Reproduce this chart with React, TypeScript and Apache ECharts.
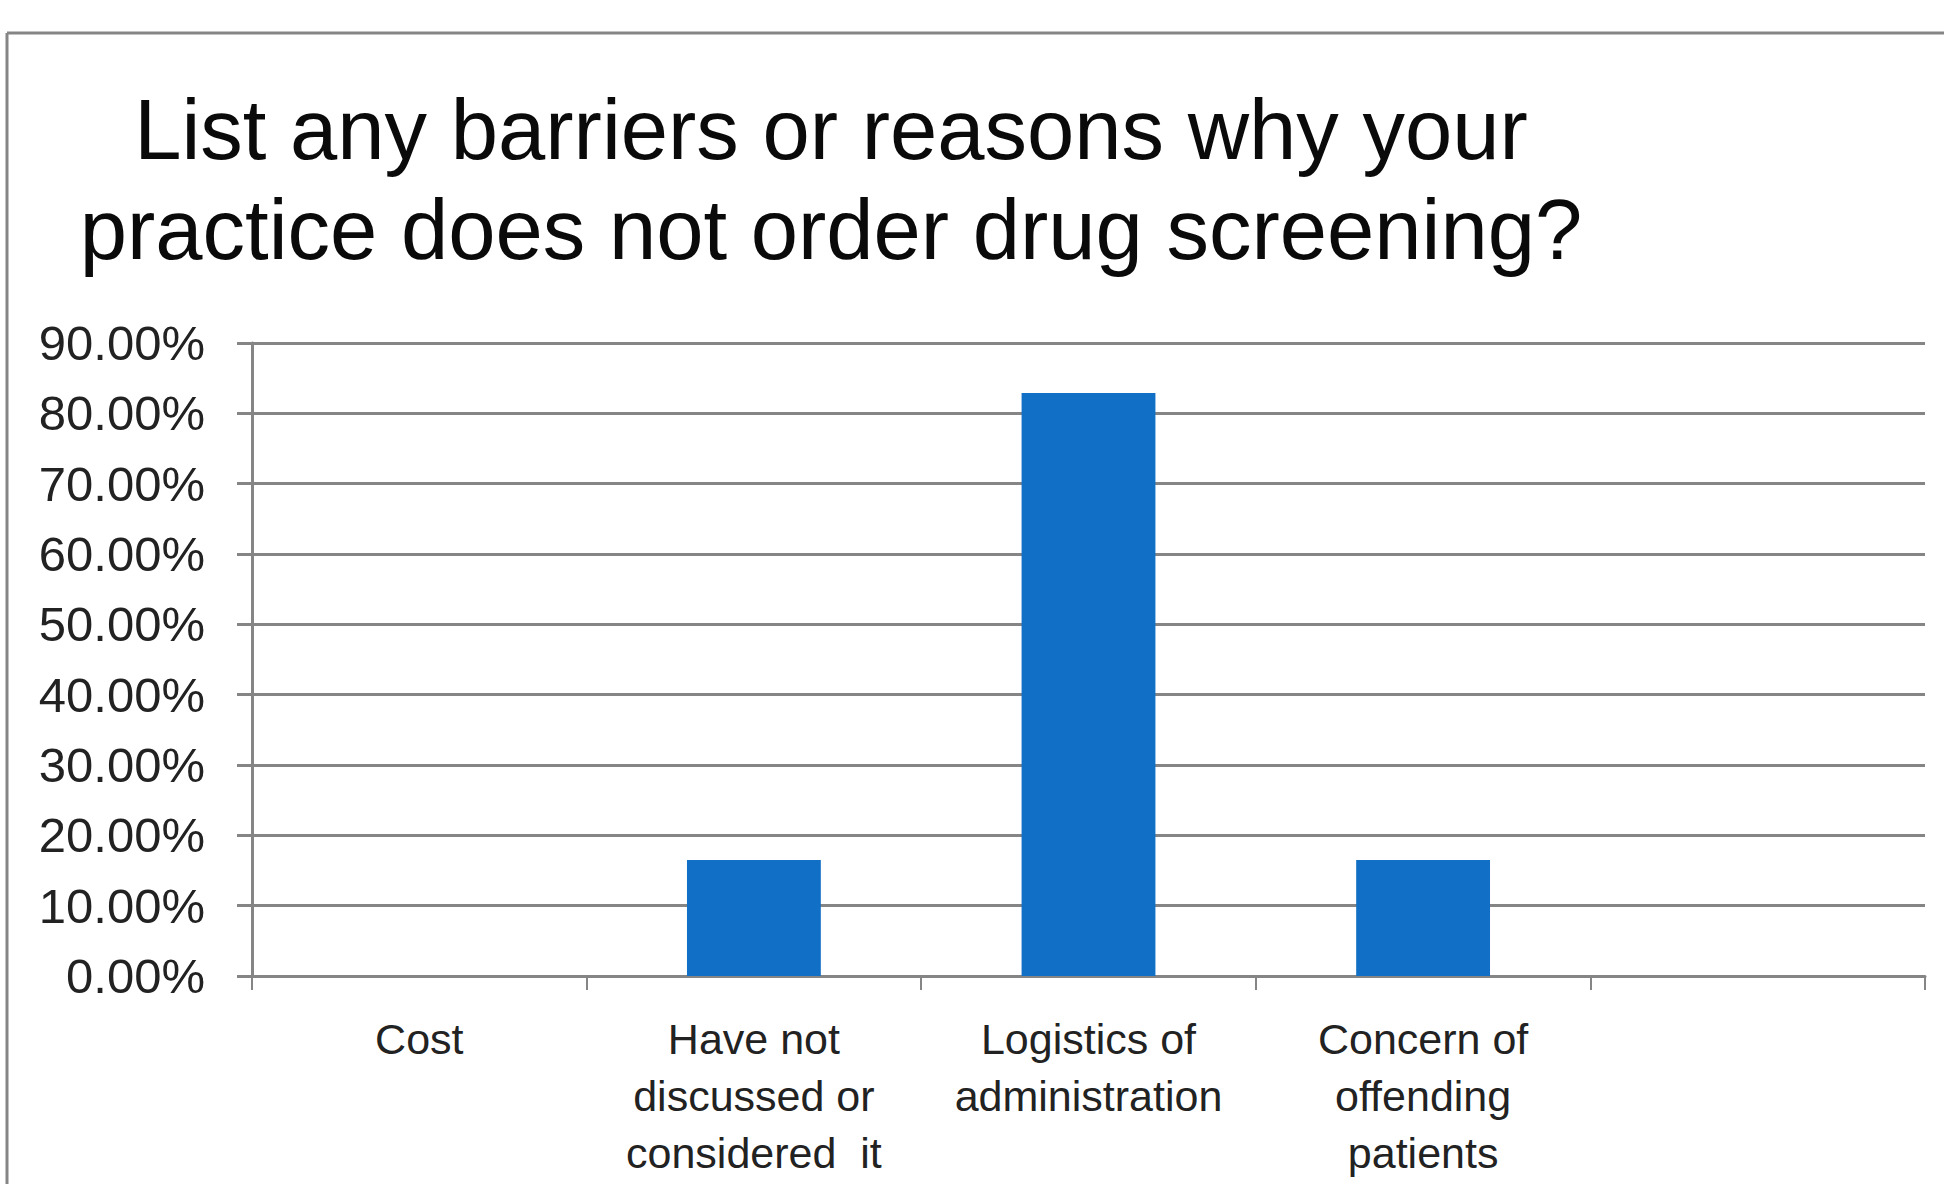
import React, { useEffect, useRef } from "react";
import * as echarts from "echarts";

const titleText = "List any barriers or reasons why your\npractice does not order drug screening?";
const categories = [
  "Cost",
  "Have not\ndiscussed or\nconsidered  it",
  "Logistics of\nadministration",
  "Concern of\noffending\npatients",
  "",
];
const values = [0, 16.5, 82.9, 16.5, null];
const yTicks = { min: 0, max: 90, interval: 10 };

export default function App() {
  const ref = useRef<HTMLDivElement>(null);
  useEffect(() => {
    document.body.style.margin = "0";
    const chart = echarts.init(ref.current!, null, { renderer: "svg" });
    const gray = "#858585";
    chart.setOption({
      animation: false,
      backgroundColor: "#ffffff",
      grid: { left: 252, right: 19, top: 343, bottom: 208, containLabel: false },
      graphic: [
        {
          type: "line",
          shape: { x1: 7, y1: 33, x2: 1944, y2: 33 },
          style: { stroke: gray, lineWidth: 3 },
        },
        {
          type: "line",
          shape: { x1: 7, y1: 33, x2: 7, y2: 1184 },
          style: { stroke: gray, lineWidth: 3 },
        },
        {
          type: "text",
          x: 831,
          y: 79,
          style: {
            text: titleText,
            textAlign: "center",
            textVerticalAlign: "top",
            fontSize: 85,
            lineHeight: 100,
            fontFamily: "Liberation Sans, Arial, sans-serif",
            fill: "#0a0a0a",
          },
        },
      ],
      xAxis: {
        type: "category",
        data: categories,
        boundaryGap: true,
        axisLine: { show: true, lineStyle: { color: gray, width: 3 } },
        axisTick: { show: true, length: 14, inside: false, lineStyle: { color: gray, width: 2 } },
        axisLabel: {
          interval: 0,
          margin: 34,
          fontSize: 43,
          lineHeight: 57,
          color: "#222222",
          fontFamily: "Liberation Sans, Arial, sans-serif",
        },
        splitLine: { show: false },
      },
      yAxis: {
        type: "value",
        min: yTicks.min,
        max: yTicks.max,
        interval: yTicks.interval,
        axisLine: { show: true, lineStyle: { color: gray, width: 3 } },
        axisTick: { show: true, length: 15, lineStyle: { color: gray, width: 3 } },
        axisLabel: {
          margin: 47,
          fontSize: 49,
          color: "#222222",
          fontFamily: "Liberation Sans, Arial, sans-serif",
          formatter: (v: number) => v.toFixed(2) + "%",
        },
        splitLine: { show: true, lineStyle: { color: gray, width: 3 } },
      },
      series: [
        {
          type: "bar",
          data: values,
          barWidth: "40%",
          itemStyle: { color: "#126fc6" },
        },
      ],
    });
    return () => chart.dispose();
  }, []);
  return <div ref={ref} style={{ width: 1944, height: 1184, background: "#fff" }} />;
}
